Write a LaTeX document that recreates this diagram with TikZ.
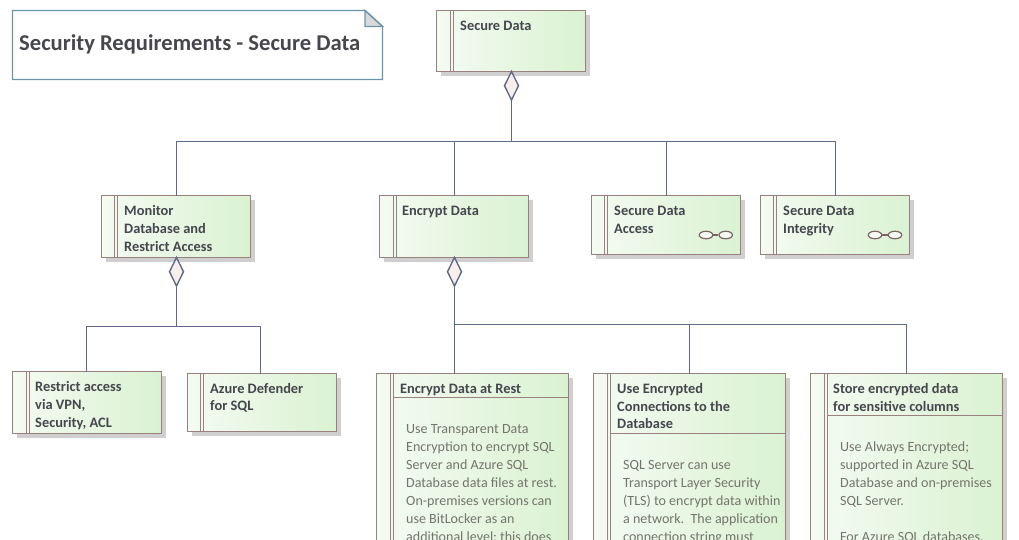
\documentclass[tikz,border=0pt]{standalone}
\usepackage{fontspec}
\setmainfont{Carlito}
\usetikzlibrary{positioning,shapes.geometric,shadows}
\definecolor{boxline}{HTML}{9A807E}
\definecolor{connline}{HTML}{5F6A8A}
\definecolor{noteline}{HTML}{6C94A8}
\definecolor{boxleft}{HTML}{F4FBF2}
\definecolor{boxright}{HTML}{DAF2D2}
\definecolor{headtext}{HTML}{46464E}
\definecolor{bodytext}{HTML}{74746C}
\definecolor{diamondfill}{HTML}{F9EFEA}
\begin{document}
\begin{tikzpicture}[x=1pt, y=-1pt,
    reqbox/.style={rectangle, draw=boxline, line width=1.4pt, anchor=north west, inner sep=0pt, outer sep=0pt,
        left color=boxleft, right color=boxright,
        drop shadow={shadow xshift=4.5pt, shadow yshift=-4.5pt, fill=black!19, opacity=1}},
    strip/.style={draw=boxline, line width=1.4pt},
    reqtext/.style={anchor=north west, inner sep=0pt, align=left, text=headtext,
        font=\fontsize{14.4}{18}\selectfont\bfseries},
    bodyblock/.style={anchor=north west, inner sep=0pt, align=left, text=bodytext,
        font=\fontsize{14.05}{18}\selectfont},
    conn/.style={draw=connline, line width=1.4pt},
    owner/.style={diamond, draw=connline, fill=diamondfill, line width=1.4pt, inner sep=0pt, outer sep=0pt,
        minimum width=14pt, minimum height=28.5pt, anchor=north},
    ring/.style={ellipse, draw=boxline!80!black, fill=boxleft, line width=1.2pt, inner sep=0pt,
        minimum width=13.5pt, minimum height=7.5pt}]
    \clip (0,0) rectangle (1019,540);

    % note
    \coordinate (notea) at (12.5,10.5);
    \coordinate (noteb) at (365,10.5);
    \coordinate (notec) at (382.5,26.5);
    \coordinate (noted) at (382.5,79.5);
    \coordinate (notee) at (12.5,79.5);
    \coordinate (notef) at (365,26.5);
    \draw[draw=noteline, line width=1.4pt] (notea) -- (noteb) -- (notec) -- (noted) -- (notee) -- cycle;
    \draw[draw=noteline, line width=1.4pt, fill=black!15] (noteb) -- (notec) -- (notef) -- cycle;
    \node[anchor=west, inner sep=0pt, text=headtext, font=\fontsize{22.6}{26}\selectfont\bfseries] (title) at (19,44.5) {Security Requirements - Secure Data};

    % top level
    \node[reqbox, minimum width=149pt, minimum height=61pt] (securedata) at (436.5,10.5) {};
    \node[reqtext] (securedatatext) at (460,20.5) {Secure Data};

    % second level
    \node[reqbox, minimum width=149pt, minimum height=62pt] (monitor) at (101.5,195.5) {};
    \node[reqtext] (monitortext) at (124,205.5) {Monitor\\Database and\\Restrict Access};
    \node[reqbox, minimum width=149pt, minimum height=62pt] (encrypt) at (379.5,195.5) {};
    \node[reqtext] (encrypttext) at (402,205.5) {Encrypt Data};
    \node[reqbox, minimum width=149pt, minimum height=59pt] (access) at (591.5,195.5) {};
    \node[reqtext] (accesstext) at (614,205.5) {Secure Data\\Access};
    \node[reqbox, minimum width=149pt, minimum height=59pt] (integrity) at (760.5,195.5) {};
    \node[reqtext] (integritytext) at (783,205.5) {Secure Data\\Integrity};

    % third level
    \node[reqbox, minimum width=149pt, minimum height=62pt] (restrict) at (12.5,371.5) {};
    \node[reqtext] (restricttext) at (35,381.5) {Restrict access\\via VPN,\\Security, ACL};
    \node[reqbox, minimum width=149pt, minimum height=58pt] (defender) at (187.5,373.5) {};
    \node[reqtext] (defendertext) at (210,383) {Azure Defender\\[-0.6pt]for SQL};
    \node[reqbox, minimum width=192pt, minimum height=200pt] (rest) at (376.5,373.5) {};
    \node[reqtext] (resttext) at (400,383.5) {Encrypt Data at Rest};
    \node[bodyblock] (restbody) at (406,424) {Use Transparent Data\\Encryption to encrypt SQL\\Server and Azure SQL\\Database data files at rest.\\On-premises versions can\\use BitLocker as an\\additional level; this does};
    \node[reqbox, minimum width=192pt, minimum height=200pt] (connections) at (593.5,373.5) {};
    \node[reqtext] (connectionstext) at (617,383.5) {Use Encrypted\\[-0.6pt]Connections to the\\[-0.6pt]Database};
    \node[bodyblock] (connectionsbody) at (623,460) {SQL Server can use\\Transport Layer Security\\(TLS) to encrypt data within\\a network.\ \ The application\\connection string must};
    \node[reqbox, minimum width=192pt, minimum height=200pt] (columns) at (810.5,373.5) {};
    \node[reqtext] (columnstext) at (833,383.5) {Store encrypted data\\[-0.6pt]for sensitive columns};
    \node[bodyblock] (columnsbody) at (840,442) {Use Always Encrypted;\\supported in Azure SQL\\Database and on-premises\\SQL Server.\\[18pt]For Azure SQL databases,};

    % strips and header lines
    \foreach \n/\s in {securedata/14,encrypt/14,restrict/14,rest/14,connections/14,columns/14,
        monitor/13,access/13,integrity/13,defender/13} {
        \draw[strip] ([xshift=\s pt]\n.north west) -- ([xshift=\s pt]\n.south west)
            ([xshift=\s pt+3pt]\n.north west) -- ([xshift=\s pt+3pt]\n.south west);
    }
    \coordinate (resthead) at (393.5,397.5);
    \coordinate (connectionshead) at (610.5,433.5);
    \coordinate (columnshead) at (827.5,415.5);
    \draw[strip] (resthead) -- (resthead -| rest.east);
    \draw[strip] (connectionshead) -- (connectionshead -| connections.east);
    \draw[strip] (columnshead) -- (columnshead -| columns.east);

    % rings
    \node[ring] (accessa) at (706,235) {};
    \node[ring] (accessb) at (725.7,235) {};
    \node[ring] (integritya) at (875,235) {};
    \node[ring] (integrityb) at (895,235) {};
    \draw[draw=boxline!80!black, line width=1.2pt] (accessa) -- (accessb);
    \draw[draw=boxline!80!black, line width=1.2pt] (integritya) -- (integrityb);

    % connectors
    \node[owner] (securedatadia) at ([xshift=0.5pt]securedata.south) {};
    \node[owner] (monitordia) at ([xshift=0.5pt]monitor.south) {};
    \node[owner] (encryptdia) at ([xshift=0.5pt]encrypt.south) {};
    \coordinate (securedatabus) at (securedatadia.south |- 0,141.5);
    \coordinate (monitorbus) at (monitordia.south |- 0,326.5);
    \coordinate (encryptbus) at (encryptdia.south |- 0,324.5);
    \draw[conn]
        (securedatadia.south) -- (securedatabus) -| ([xshift=0.5pt]monitor.north)
        (securedatabus) -| ([xshift=0.5pt]encrypt.north)
        (securedatabus) -| ([xshift=0.5pt]access.north)
        (securedatabus) -| ([xshift=0.5pt]integrity.north)
        (monitordia.south) -- (monitorbus) -| ([xshift=-0.5pt]restrict.north)
        (monitorbus) -| ([xshift=-1.5pt]defender.north)
        (encryptdia.south) -- (encryptbus) -| (connections.north)
        (encryptbus) -| (columns.north)
        (encryptbus) -- (encryptbus |- rest.north)
    ;
\end{tikzpicture}
\end{document}
